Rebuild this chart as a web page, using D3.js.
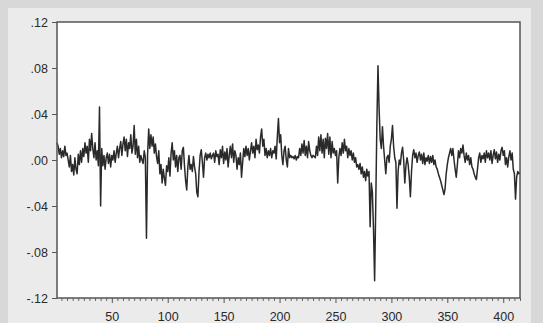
<!DOCTYPE html>
<html>
<head>
<meta charset="utf-8">
<script src="https://cdn.jsdelivr.net/npm/d3@7"></script>
<style>
  body { margin: 0; background: #d8d8d8; }
  svg { display: block; }
</style>
</head>
<body>
<svg id="chart" width="543" height="323"></svg>
<script>
var values = [
  .015, .012, .005, .010, .002, .008, .003, .012, .004, .006,
  .000, -.006, .004, -.010, -.004, -.013, .002, -.008, -.012, .005,
  -.004, .008, -.002, .010, .003, .015, .006, .012, -.002, .018,
  .008, .023, .010, .002, .015, .000, .008, -.005, .046, -.040,
  .010, -.005, .004, -.008, .002, .006, -.003, .005, -.006, .004,
  .000, .008, -.002, .006, .012, .002, .010, .016, .004, .014,
  .020, .008, .018, .003, .015, .010, .022, .006, .012, .030,
  .005, .018, .002, .012, -.002, .004, .000, -.003, .008, .002,
  -.068, .005, .027, .010, .022, .012, .020, .006, .014, .003,
  -.003, .008, -.012, -.004, -.020, -.008, -.016, -.022, -.005, -.010,
  .002, -.014, .006, .015, .000, .008, -.006, .004, -.010, .002,
  .004, -.008, .008, .011, -.005, -.018, -.026, -.006, .004, -.008,
  -.004, -.010, .003, -.006, -.012, -.028, -.032, -.010, .004, .009,
  -.002, -.015, .002, .006, .000, .005, .002, .006, .001, .004,
  .006, -.002, .008, .003, .005, -.004, .009, .002, .012, -.003,
  .007, .000, .010, -.006, .004, .012, .002, .014, -.002, .008,
  .004, -.008, .002, -.004, .006, -.015, -.002, .010, .003, .012,
  .004, .010, .000, .008, .015, .006, .012, .002, .018, .009,
  .013, .006, .020, .027, .012, .018, .004, .010, .002, .008,
  .004, .010, .002, .008, .006, .012, .001, .020, .036, .015,
  .022, .004, -.004, .008, .012, .000, -.006, .010, .002, .004,
  .002, .003, .001, .004, .000, .003, .002, .010, .004, .014,
  .006, .017, .004, .012, .002, .016, .008, .004, .002, .004,
  .003, .002, .012, .004, .020, .008, .022, .006, .018, .002,
  .019, .010, .023, .005, .020, .002, .016, .006, .010, .004,
  .008, -.020, .002, .010, .004, .015, .006, .018, .008, .012,
  .002, .010, .004, .008, .000, .006, -.002, .002, -.006, -.004,
  -.008, -.003, -.012, -.006, -.015, -.010, -.018, -.008, -.014, -.010,
  -.058, -.020, -.028, -.060, -.105, -.040, .030, .082, .045, .018,
  .010, .029, .012, .000, -.012, .002, .004, -.002, .012, .018,
  .030, .012, .002, -.002, -.042, -.010, .000, -.004, .006, .011,
  .000, -.020, -.005, .002, -.004, -.015, -.032, -.010, .004, .009,
  .002, .006, -.002, .004, .007, .000, .005, -.003, .006, -.004,
  .002, -.001, .004, -.003, .003, -.002, .004, -.004, .000, -.006,
  -.008, -.012, -.015, -.018, -.022, -.026, -.030, -.025, -.012, -.004,
  .002, .006, .010, .004, .010, .000, -.008, -.015, -.004, .008,
  .002, .010, .006, .013, .004, -.002, .006, .000, .004, -.004,
  .002, -.006, -.008, -.012, -.015, -.017, -.008, .002, .006, -.002,
  .004, .001, .006, -.002, .008, .002, .006, .000, .008, -.003,
  .004, .009, .001, .007, -.002, .005, .000, .008, .011, .004,
  .008, -.004, .002, -.006, .003, .008, .000, .006, -.008, -.012,
  -.034, -.015, -.010, -.012, -.011
];

var yTicks = [-0.12, -0.08, -0.04, 0, 0.04, 0.08, 0.12];
var yTickLabels = ["-.12", "-.08", "-.04", ".00", ".04", ".08", ".12"];
var xTicks = [50, 100, 150, 200, 250, 300, 350, 400];

var svg = d3.select("#chart");
var width = +svg.attr("width"),
    height = +svg.attr("height");

var margin = {top: 22, right: 23, bottom: 25, left: 57};
var plotW = width - margin.left - margin.right,
    plotH = height - margin.top - margin.bottom;

// light grey panel behind the plot
svg.append("rect")
  .attr("x", 8).attr("y", 8)
  .attr("width", width - 20).attr("height", height - 8)
  .attr("fill", "#ebebeb");

var x = d3.scaleLinear()
  .domain([1, values.length])
  .range([margin.left, margin.left + plotW]);

var y = d3.scaleLinear()
  .domain([-0.12, 0.12])
  .range([margin.top + plotH, margin.top]);

svg.append("rect")
  .attr("x", margin.left).attr("y", margin.top)
  .attr("width", plotW).attr("height", plotH)
  .attr("fill", "#fff");

// minor ticks every 5 observations
var minor = d3.range(5, values.length + 1, 5).filter(function(d){ return d % 50 != 0; });

svg.append("g")
  .attr("transform", "translate(0," + (margin.top + plotH) + ")")
  .call(d3.axisBottom(x).tickValues(minor).tickSize(3).tickFormat(""))
  .call(function(g){ g.select(".domain").remove(); })
  .selectAll("line").attr("stroke", "#666");

var xAxis = svg.append("g")
  .attr("transform", "translate(0," + (margin.top + plotH) + ")")
  .call(d3.axisBottom(x).tickValues(xTicks).tickSize(5).tickPadding(9));
xAxis.select(".domain").remove();
xAxis.selectAll("line").attr("stroke", "#555");
xAxis.selectAll("text")
  .attr("font-family", "Liberation Sans, Arial, sans-serif")
  .attr("font-size", 12.5)
  .attr("fill", "#2a2a2a");

var yAxis = svg.append("g")
  .attr("transform", "translate(" + margin.left + ",0)")
  .call(d3.axisLeft(y).tickValues(yTicks).tickSize(5).tickPadding(4)
    .tickFormat(function(d, i){ return yTickLabels[i]; }));
yAxis.select(".domain").remove();
yAxis.selectAll("line").attr("stroke", "#555");
yAxis.selectAll("text")
  .attr("font-family", "Liberation Sans, Arial, sans-serif")
  .attr("font-size", 12.5)
  .attr("fill", "#2a2a2a");

var line = d3.line()
  .x(function(d, i){ return x(i + 1); })
  .y(function(d){ return y(d); });

svg.append("path")
  .datum(values)
  .attr("d", line)
  .attr("fill", "none")
  .attr("stroke", "#2a2a2a")
  .attr("stroke-width", 1.5)
  .attr("stroke-linejoin", "round");

// frame round the plot
svg.append("rect")
  .attr("x", margin.left).attr("y", margin.top)
  .attr("width", plotW).attr("height", plotH)
  .attr("fill", "none")
  .attr("stroke", "#555")
  .attr("stroke-width", 1.5);
</script>
</body>
</html>
